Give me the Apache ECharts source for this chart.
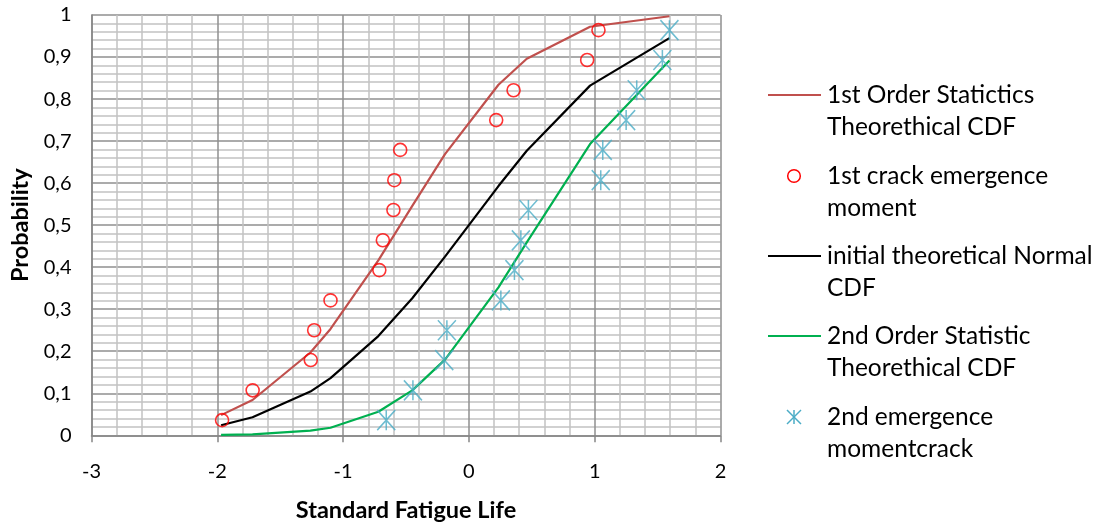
<!DOCTYPE html>
<html><head><meta charset="utf-8">
<script src="https://cdn.jsdelivr.net/npm/echarts@6/dist/echarts.min.js"></script>
<style>html,body{margin:0;padding:0;background:#fff}#c{width:1111px;height:528px}</style>
</head><body><div id="c"></div>
<script>
// ---- data ----
const xFirst  = [-1.962,-1.719,-1.257,-1.23,-1.10,-0.712,-0.684,-0.60,-0.593,-0.546,0.217,0.355,0.94,1.03];
const yFirst  = [0.036,0.107,0.179,0.25,0.321,0.393,0.464,0.536,0.607,0.679,0.75,0.821,0.893,0.964];
const xSecond = [-0.657,-0.445,-0.196,-0.175,0.254,0.362,0.413,0.473,1.048,1.064,1.25,1.334,1.538,1.594];
const ySecond = [0.036,0.107,0.179,0.25,0.321,0.393,0.464,0.536,0.607,0.679,0.75,0.821,0.893,0.964];
const xCurve  = [-1.97,-1.72,-1.26,-1.10,-0.72,-0.45,-0.19,0.235,0.46,0.963,1.594];
const yFirstOrder  = [0.048,0.084,0.197,0.253,0.416,0.546,0.669,0.834,0.896,0.972,0.997];
const yNormal      = [0.024,0.043,0.104,0.136,0.236,0.326,0.425,0.593,0.677,0.832,0.945];
const ySecondOrder = [0.001,0.002,0.011,0.018,0.056,0.107,0.180,0.352,0.459,0.693,0.892];
const xTickLabels = ['-3','-2','-1','0','1','2'];
const yTickLabels = ['0','0,1','0,2','0,3','0,4','0,5','0,6','0,7','0,8','0,9','1'];
const seriesNames = [
  ['1st Order Statictics','Theorethical CDF'],
  ['1st crack emergence','moment'],
  ['initial theoretical Normal','CDF'],
  ['2nd Order Statistic','Theorethical CDF'],
  ['2nd emergence','momentcrack']
];

const FONT = 'Lato';
const pair = (xs, ys) => xs.map((x, i) => [x, ys[i]]);
const STAR = 'path://M10,0L10,20M0,0L20,20M0,20L20,0';

const chart = echarts.init(document.getElementById('c'), null, {renderer: 'canvas'});

// legend drawn as graphic (icon aligned to first text line as in reference)
const legX = 768, legTextX = 827, legY = [95, 176, 256, 336, 417], lineGap = 32;
const graphics = [];
const legendIcons = [
  {type: 'line', color: '#C0504D'},
  {type: 'circle', color: '#FF0000'},
  {type: 'line', color: '#000000'},
  {type: 'line', color: '#00B050'},
  {type: 'star', color: '#4BACC6'}
];
legendIcons.forEach((ic, i) => {
  const y = legY[i];
  if (ic.type === 'line') {
    graphics.push({type: 'line', shape: {x1: legX, y1: y, x2: legX + 53, y2: y}, style: {stroke: ic.color, lineWidth: 2}});
  } else if (ic.type === 'circle') {
    graphics.push({type: 'circle', shape: {cx: 794, cy: y, r: 6.3}, style: {fill: 'none', stroke: ic.color, lineWidth: 1.5}});
  } else {
    const cx = 794, r = 7;
    graphics.push({type: 'line', shape: {x1: cx, y1: y - r, x2: cx, y2: y + r}, style: {stroke: ic.color, lineWidth: 1.5}});
    graphics.push({type: 'line', shape: {x1: cx - r, y1: y - r, x2: cx + r, y2: y + r}, style: {stroke: ic.color, lineWidth: 1.5}});
    graphics.push({type: 'line', shape: {x1: cx - r, y1: y + r, x2: cx + r, y2: y - r}, style: {stroke: ic.color, lineWidth: 1.5}});
  }
  seriesNames[i].forEach((t, j) => {
    graphics.push({type: 'text', x: legTextX, y: y + j * lineGap,
      style: {text: t, font: '24.5px ' + FONT, fill: '#000', verticalAlign: 'middle', align: 'left'}});
  });
});

chart.setOption({
  animation: false,
  backgroundColor: '#fff',
  grid: {left: 91.5, right: 390.5, top: 15, bottom: 92.7, containLabel: false, outerBoundsMode: 'none'},
  xAxis: {
    type: 'value', min: -3, max: 2, interval: 1,
    name: 'Standard Fatigue Life', nameLocation: 'middle', nameGap: 63,
    nameTextStyle: {fontFamily: FONT, fontSize: 23.5, fontWeight: 'bold', color: '#000'},
    axisLine: {show: true, onZero: false, lineStyle: {color: '#868686', width: 1.5}},
    axisTick: {show: true, length: 7, lineStyle: {color: '#868686', width: 1.5}},
    axisLabel: {fontFamily: FONT, fontSize: 20, color: '#000', margin: 26,
      formatter: v => xTickLabels[Math.round(v + 3)]},
    splitLine: {show: true, lineStyle: {color: '#8f8f8f', width: 1.5}},
    minorTick: {show: false, splitNumber: 5},
    minorSplitLine: {show: true, lineStyle: {color: '#c2c2c2', width: 1.5}}
  },
  yAxis: {
    type: 'value', min: 0, max: 1, interval: 0.1,
    name: 'Probability', nameLocation: 'middle', nameGap: 58, nameRotate: 90,
    nameTextStyle: {fontFamily: FONT, fontSize: 23.5, fontWeight: 'bold', color: '#000'},
    axisLine: {show: true, onZero: false, lineStyle: {color: '#868686', width: 1.5}},
    axisTick: {show: false},
    axisLabel: {fontFamily: FONT, fontSize: 20, color: '#000', margin: 20,
      formatter: v => yTickLabels[Math.round(v * 10)]},
    splitLine: {show: true, lineStyle: {color: '#8f8f8f', width: 1.5}},
    minorTick: {show: false, splitNumber: 5},
    minorSplitLine: {show: true, lineStyle: {color: '#c2c2c2', width: 1.5}}
  },
  series: [
    {name: seriesNames[0].join(' '), type: 'line', data: pair(xCurve, yFirstOrder), symbol: 'none',
      lineStyle: {color: '#C0504D', width: 2.2}, z: 2},
    {name: seriesNames[2].join(' '), type: 'line', data: pair(xCurve, yNormal), symbol: 'none',
      lineStyle: {color: '#000000', width: 2.2}, z: 2},
    {name: seriesNames[3].join(' '), type: 'line', data: pair(xCurve, ySecondOrder), symbol: 'none',
      lineStyle: {color: '#00B050', width: 2.2}, z: 2},
    {name: seriesNames[1].join(' '), type: 'scatter', data: pair(xFirst, yFirst), symbol: 'circle', symbolSize: 13,
      itemStyle: {color: 'rgba(0,0,0,0)', borderColor: '#FF0000', borderWidth: 1.6}, z: 3},
    {name: seriesNames[4].join(' '), type: 'scatter', data: pair(xSecond, ySecond), symbol: STAR, symbolSize: [18, 20],
      itemStyle: {color: 'rgba(0,0,0,0)', borderColor: '#4BACC6', borderWidth: 1.6}, z: 3}
  ],
  graphic: graphics
});
</script></body></html>
